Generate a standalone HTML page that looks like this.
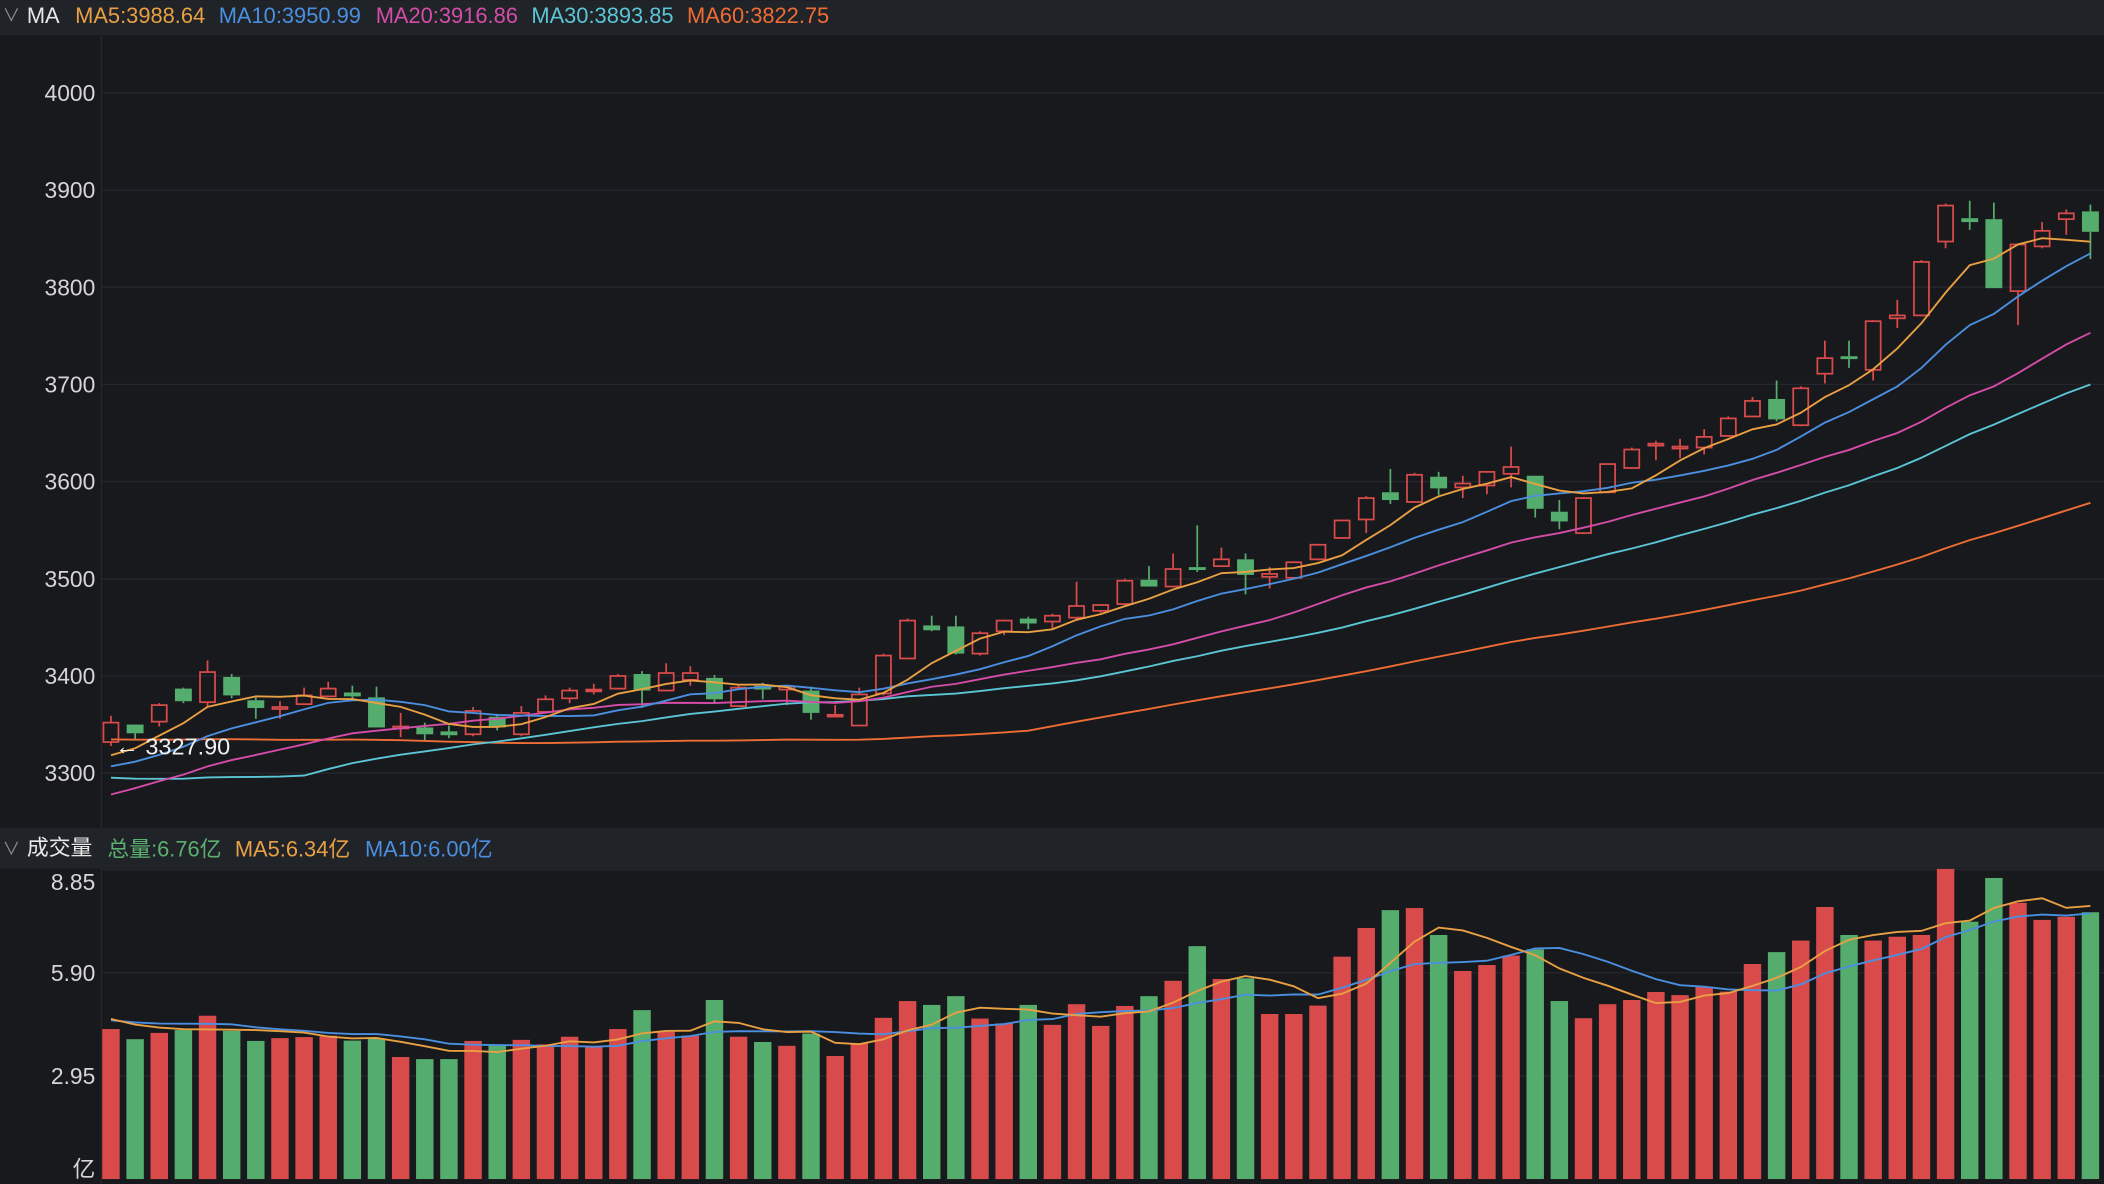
<!DOCTYPE html>
<html><head><meta charset="utf-8">
<style>
html,body{margin:0;padding:0;background:#18191d;overflow:hidden;}
svg{display:block;}
text{font-family:"Liberation Sans","Noto Sans CJK SC",sans-serif;}
</style></head>
<body>
<svg id="chart" width="2104" height="1184" viewBox="0 0 1568 882" xmlns="http://www.w3.org/2000/svg">
  <rect x="0" y="0" width="1568" height="882" fill="#18191d"/>
  <rect x="0" y="0" width="1568" height="26" fill="#202328"/>
  <rect x="0" y="617" width="1568" height="30" fill="#202328"/>
  <line x1="75.5" y1="26" x2="75.5" y2="617" stroke="#24262b" stroke-width="1"/>
  <line x1="75.5" y1="647" x2="75.5" y2="882" stroke="#24262b" stroke-width="1"/>
  <g font-size="16.3">
    <text x="2" y="16" fill="#8a8d93" font-size="13">∨</text>
    <text x="20" y="17" fill="#e8e8e8">MA</text>
    <text x="56" y="17" fill="#e9a043">MA5:3988.64</text>
    <text x="163" y="17" fill="#4a8fe0">MA10:3950.99</text>
    <text x="280" y="17" fill="#d54da9">MA20:3916.86</text>
    <text x="396" y="17" fill="#5ac6d6">MA30:3893.85</text>
    <text x="512" y="17" fill="#ef6d35">MA60:3822.75</text>
  </g>
  <g font-size="16.3">
    <text x="2" y="637" fill="#8a8d93" font-size="13">∨</text>
    <text x="20" y="637" fill="#e8e8e8">成交量</text>
    <text x="80" y="638" fill="#5bb070">总量:6.76亿</text>
    <text x="175" y="638" fill="#e9a043">MA5:6.34亿</text>
    <text x="272" y="638" fill="#4a8fe0">MA10:6.00亿</text>
  </g>
  <g id="priceGrid"></g>
  <g id="volGrid"></g>
  <g id="volBars"></g>
  <g id="volLines"></g>
  <g id="candles"></g>
  <g id="maLines"></g>
  <text x="86" y="562" fill="#f0f0f0" font-size="17.5">← 3327.90</text>
</svg>
<script>
const opens  = [3332,3350,3353,3387,3373,3399,3375,3366,3371,3379,3383,3378,3346,3347,3343,3340,3358,3340,3363,3377,3385,3387,3402,3385,3396,3398,3369,3390,3386,3385,3359,3349,3382,3418,3452,3451,3423,3446,3459,3456,3460,3467,3474,3499,3492,3512,3513,3520,3502,3501,3520,3542,3561,3589,3579,3605,3594,3596,3608,3606,3569,3547,3589,3614,3637,3634,3635,3647,3667,3685,3658,3711,3729,3715,3768,3771,3847,3871,3870,3796,3842,3870,3878];
const closes = [3352,3341,3370,3374,3404,3380,3367,3368,3380,3387,3379,3347,3348,3340,3339,3364,3347,3362,3376,3385,3386,3400,3385,3403,3403,3376,3388,3386,3389,3362,3360,3381,3421,3457,3447,3423,3444,3457,3454,3462,3472,3473,3498,3492,3510,3509,3520,3504,3505,3517,3535,3560,3583,3581,3607,3593,3598,3610,3615,3572,3559,3583,3618,3633,3639,3636,3646,3665,3683,3664,3696,3727,3726,3765,3771,3826,3884,3867,3799,3844,3858,3876,3857];
const highs  = [3359,3350,3372,3388,3416,3402,3378,3374,3388,3394,3390,3389,3362,3352,3349,3368,3361,3369,3380,3388,3392,3402,3405,3413,3410,3401,3390,3393,3390,3389,3370,3388,3423,3459,3462,3462,3446,3458,3461,3464,3497,3474,3500,3513,3526,3555,3532,3526,3512,3518,3536,3561,3585,3613,3609,3610,3606,3611,3636,3606,3581,3584,3619,3635,3642,3644,3654,3667,3687,3704,3698,3745,3745,3766,3787,3828,3886,3889,3887,3845,3867,3880,3885];
const lows   = [3328,3335,3348,3372,3369,3377,3356,3356,3370,3378,3376,3347,3337,3334,3336,3338,3344,3338,3362,3372,3381,3386,3367,3385,3390,3372,3368,3376,3370,3355,3358,3349,3380,3417,3446,3422,3421,3442,3448,3449,3458,3465,3473,3492,3491,3507,3512,3484,3490,3500,3519,3541,3547,3577,3578,3586,3583,3587,3594,3563,3551,3546,3588,3613,3622,3624,3628,3646,3666,3662,3657,3701,3717,3704,3758,3770,3840,3859,3799,3761,3840,3854,3829];
const priorCloses = [3360,3365,3372,3380,3378,3385,3390,3382,3375,3370,3368,3372,3380,3386,3392,3388,3380,3374,3366,3360,3362,3370,3376,3382,3378,3370,3364,3360,3368,3370,3372,3375,3368,3365,3370,3362,3358,3350,3185,3195,3210,3225,3240,3235,3250,3262,3258,3270,3268,3272,3293,3300,3290,3295,3300,3305,3305,3310,3320];
const volumes = [4.29,4.00,4.18,4.26,4.67,4.24,3.95,4.03,4.06,4.10,3.96,4.02,3.49,3.43,3.43,3.95,3.85,3.98,3.85,4.07,3.78,4.29,4.83,4.21,4.10,5.12,4.07,3.92,3.81,4.16,3.52,3.88,4.61,5.09,4.98,5.23,4.59,4.45,4.98,4.41,5.00,4.38,4.95,5.23,5.67,6.66,5.72,5.74,4.72,4.72,4.96,6.36,7.18,7.69,7.75,6.98,5.95,6.12,6.39,6.57,5.09,4.60,5.00,5.12,5.35,5.26,5.50,5.36,6.15,6.49,6.82,7.78,6.98,6.82,6.93,6.98,8.87,7.36,8.61,7.90,7.41,7.50,7.63];
const priorVolumes = [4.6,4.5,4.3,4.7,4.4,4.8,4.6,4.5,4.7];
const priceTicks = [3300,3400,3500,3600,3700,3800,3900,4000];
const volTicks = [2.95,5.90,8.85];
const volTickLabels = ["2.95","5.90","8.85"];
const maPeriods = [5,10,20,30,60];
const maColors = ["#e9a043","#4a8fe0","#d54da9","#5ac6d6","#ef6d35"];
const maNames = ["ma5-line","ma10-line","ma20-line","ma30-line","ma60-line"];

const NS = "http://www.w3.org/2000/svg";
const X0 = 82.7, DX = 17.99;
function xAt(i){ return X0 + i*DX; }
function yP(p){ return 576 - (p-3300)*0.7243; }
function yV(v){ return 878.5 - v*26.06; }
function mk(tag, attrs, parent){
  const el = document.createElementNS(NS, tag);
  for (const k in attrs) el.setAttribute(k, attrs[k]);
  parent.appendChild(el);
  return el;
}
const RED = "#d94b4b", GREEN = "#55ad6d";

const pg = document.getElementById('priceGrid');
priceTicks.forEach(t => {
  const y = yP(t);
  const ln = mk('line', {x1:76, x2:1568, y1:y, y2:y, stroke:'#25272c', 'stroke-width':1}, pg);
  
  
  const tx = mk('text', {x:71, y:y+6, 'text-anchor':'end', fill:'#d6d6d6', 'font-size':17}, pg);
  tx.textContent = String(t);
  
  
});

const vg = document.getElementById('volGrid');
volTicks.forEach((t, k) => {
  const y = yV(t);
  const ln = mk('line', {x1:76, x2:1568, y1:y, y2:y, stroke:'#25272c', 'stroke-width':1}, vg);
  
  
  const ly = k === 2 ? 663 : y + 6;
  const tx = mk('text', {x:71, y:ly, 'text-anchor':'end', fill:'#d6d6d6', 'font-size':17}, vg);
  tx.textContent = volTickLabels[k];
  
  
});
const unit = mk('text', {x:71, y:877, 'text-anchor':'end', fill:'#d6d6d6', 'font-size':17}, vg);
unit.textContent = '亿';



const vb = document.getElementById('volBars');
volumes.forEach((v, i) => {
  const up = closes[i] >= opens[i];
  const y = yV(v);
  const r = mk('rect', {x:xAt(i)-6.5, y:y, width:13, height:878.5-y, fill: up?RED:GREEN}, vb);
  
  
});

function movingAvg(prior, vals, n){
  const all = prior.concat(vals);
  const off = prior.length;
  return vals.map((_, i) => {
    const end = off + i;
    const start = Math.max(0, end - n + 1);
    let s = 0;
    for (let j = start; j <= end; j++) s += all[j];
    return s / (end - start + 1);
  });
}
function pathFrom(vals, yf){
  return vals.map((v, i) => (i ? 'L' : 'M') + xAt(i).toFixed(2) + ' ' + yf(v).toFixed(2)).join(' ');
}

const vl = document.getElementById('volLines');
const vma5 = movingAvg(priorVolumes, volumes, 5);
const vma10 = movingAvg(priorVolumes, volumes, 10);
const p1 = mk('path', {d:pathFrom(vma10, yV), fill:'none', stroke:'#4a8fe0', 'stroke-width':1.4}, vl);


const p2 = mk('path', {d:pathFrom(vma5, yV), fill:'none', stroke:'#e9a043', 'stroke-width':1.4}, vl);



const cg = document.getElementById('candles');
closes.forEach((c, i) => {
  const o = opens[i], up = c >= o, x = xAt(i);
  const col = up ? RED : GREEN;
  const g = mk('g', {}, cg);
  
  
  const top = yP(Math.max(o, c)), bot = yP(Math.min(o, c));
  mk('line', {x1:x, x2:x, y1:yP(highs[i]), y2:top, stroke:col, 'stroke-width':1.3}, g);
  mk('line', {x1:x, x2:x, y1:bot, y2:yP(lows[i]), stroke:col, 'stroke-width':1.3}, g);
  const h = Math.max(bot - top, 1.3);
  if (up) mk('rect', {x:x-5.6, y:top, width:11.2, height:h, fill:'none', stroke:col, 'stroke-width':1.3}, g);
  else mk('rect', {x:x-6.3, y:top, width:12.6, height:h, fill:col}, g);
});

const ml = document.getElementById('maLines');
for (let k = maPeriods.length - 1; k >= 0; k--) {
  const ma = movingAvg(priorCloses, closes, maPeriods[k]);
  const p = mk('path', {d:pathFrom(ma, yP), fill:'none', stroke:maColors[k], 'stroke-width':1.4}, ml);
  
  
}
</script>
</body></html>
